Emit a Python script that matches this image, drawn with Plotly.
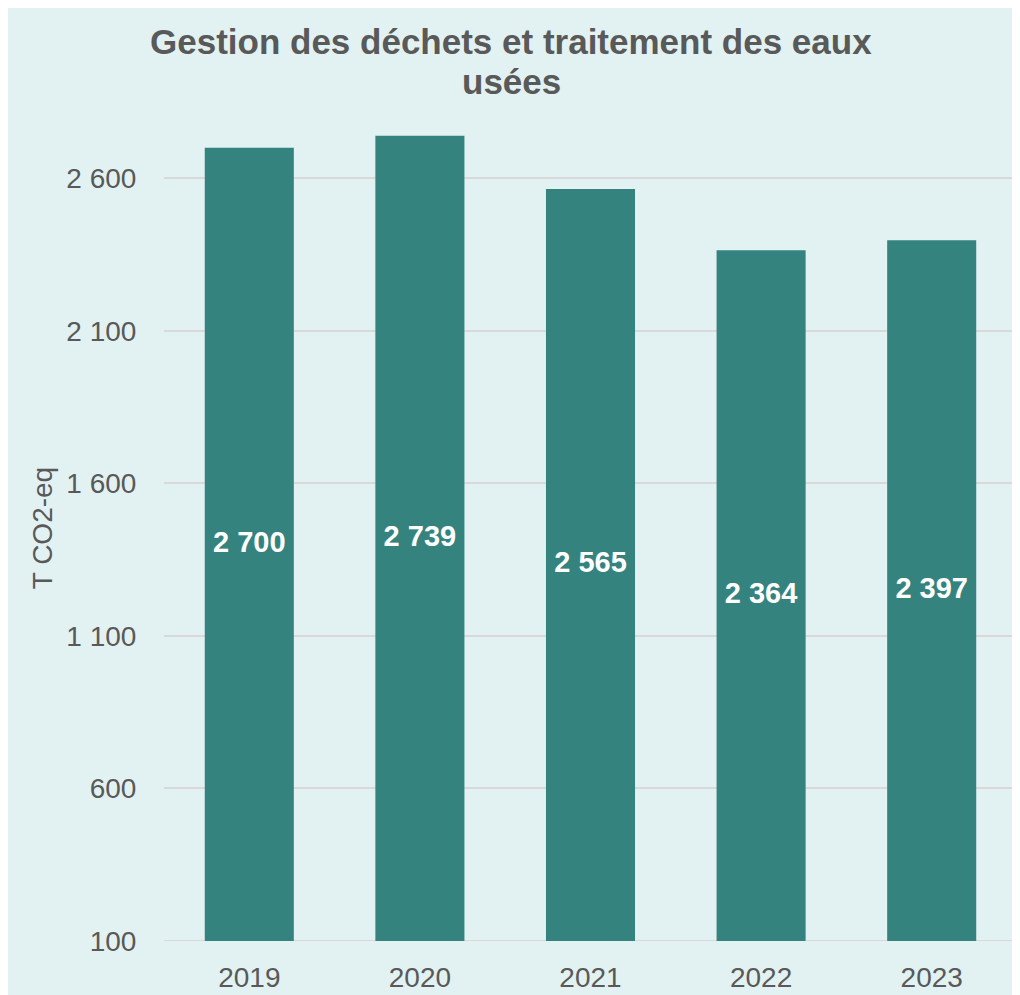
import plotly.graph_objects as go

years = ["2019", "2020", "2021", "2022", "2023"]
values = [2700, 2739, 2565, 2364, 2397]
labels = ["2 700", "2 739", "2 565", "2 364", "2 397"]
y_tickvals = [100, 600, 1100, 1600, 2100, 2600]
y_ticktext = ["100", "600", "1 100", "1 600", "2 100", "2 600"]
title_lines = ["Gestion des déchets et traitement des eaux", "usées"]
y_title = "T CO2-eq"
y_min, y_max = 100, 2850

BG = "#E2F2F2"
BAR = "#35837F"
GREY = "#595959"
FONT = "Liberation Sans, Arial, sans-serif"

fig = go.Figure(go.Bar(
    x=years, y=values,
    marker=dict(color=BAR, line=dict(width=0)),
    width=0.522,
))
# labels centred on the visible part of each bar (axis starts at y_min)
fig.add_trace(go.Scatter(
    x=years, y=[(v + y_min) / 2 for v in values], text=labels,
    mode="text", textposition="middle center",
    textfont=dict(family=FONT, size=29, color="white", weight="bold"),
    hoverinfo="skip", cliponaxis=False,
))

fig.update_layout(
    width=1020, height=995,
    paper_bgcolor=BG, plot_bgcolor=BG,
    margin=dict(l=156, r=11, t=94, b=62),
    showlegend=False,
    font=dict(family=FONT, color=GREY),
)
fig.add_annotation(text="<b>" + title_lines[0] + "</b>", xref="paper", yref="paper",
                   x=0.4068, y=1.0727, xanchor="center", yanchor="middle", showarrow=False,
                   font=dict(family=FONT, size=35, color=GREY))
fig.add_annotation(text="<b>" + title_lines[1] + "</b>", xref="paper", yref="paper",
                   x=0.4068, y=1.0250, xanchor="center", yanchor="middle", showarrow=False,
                   font=dict(family=FONT, size=35, color=GREY))
fig.add_annotation(text=y_title, xref="paper", yref="paper", textangle=-90,
                   x=-0.143, y=0.492, xanchor="center", yanchor="middle", showarrow=False,
                   font=dict(family=FONT, size=28, color=GREY))
fig.update_yaxes(range=[y_min, y_max], tickvals=y_tickvals, ticktext=y_ticktext,
                 showgrid=True, gridcolor="#D9D9D9", gridwidth=2,
                 zeroline=False, showline=False,
                 ticks="outside", ticklen=21, tickcolor="rgba(0,0,0,0)",
                 tickfont=dict(family=FONT, size=28, color=GREY))
fig.update_xaxes(showgrid=False, showline=False, zeroline=False,
                 ticks="outside", ticklen=11, tickcolor="rgba(0,0,0,0)",
                 tickfont=dict(family=FONT, size=28, color=GREY))
fig.add_shape(type="line", xref="paper", yref="y", x0=0, x1=1, y0=y_min, y1=y_min,
              line=dict(color="#D9D9D9", width=2), layer="below")
fig.write_html("out.html")
